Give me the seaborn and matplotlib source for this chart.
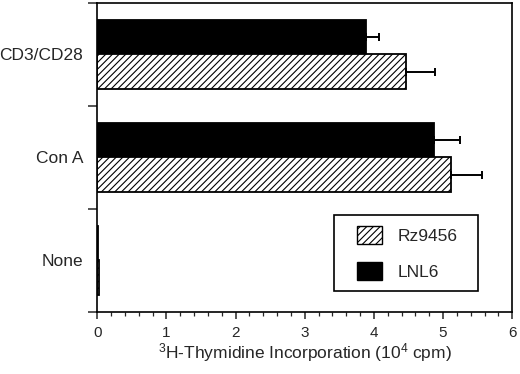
import numpy as np
import pandas as pd
import seaborn as sns
import matplotlib

matplotlib.use("Agg")
import matplotlib.pyplot as plt
from matplotlib.patches import Patch, Rectangle
from matplotlib.ticker import MultipleLocator, FixedLocator

# values (units: 10^4 cpm)
stimuli = ["CD3/CD28", "Con A", "None"]
lnl6 = [3.88, 4.87, 0.01]
lnl6_err = [0.20, 0.38, 0.0]
rz9456 = [4.47, 5.12, 0.03]
rz9456_err = [0.41, 0.44, 0.0]
vectors = ["LNL6", "Rz9456"]
x_ticks = [0, 1, 2, 3, 4, 5, 6]

sns.set_theme(style="ticks")
plt.rcParams["font.family"] = ["Liberation Sans", "DejaVu Sans"]
plt.rcParams["mathtext.default"] = "regular"
plt.rcParams["hatch.linewidth"] = 0.8
plt.rcParams["hatch.color"] = "black"

df = pd.DataFrame(
    {
        "stimulus": stimuli * 2,
        "vector": ["LNL6"] * 3 + ["Rz9456"] * 3,
        "value": lnl6 + rz9456,
    }
)
errs = {"LNL6": lnl6_err, "Rz9456": rz9456_err}

fig, ax = plt.subplots(figsize=(5.2, 3.74), dpi=100)
fig.subplots_adjust(left=0.187, right=0.985, top=0.992, bottom=0.166)

sns.barplot(
    data=df,
    y="stimulus",
    x="value",
    hue="vector",
    order=stimuli,
    hue_order=vectors,
    orient="h",
    width=0.67,
    palette={"LNL6": "black", "Rz9456": "white"},
    edgecolor="black",
    linewidth=1.3,
    errorbar=None,
    legend=False,
    ax=ax,
)

for container, name in zip(ax.containers, vectors):
    for bar, err in zip(container, errs[name]):
        if name == "Rz9456":
            bar.set_hatch("/////")
        if err > 0:
            yc = bar.get_y() + bar.get_height() / 2
            ax.errorbar(
                bar.get_width(), yc, xerr=[[0], [err]],
                fmt="none", ecolor="black", elinewidth=1.4,
                capsize=2.8, capthick=1.4, zorder=3,
            )

ax.set_xlim(0, 6)
ax.set_ylim(2.5, -0.5)
ax.set_xticks(x_ticks)
ax.xaxis.set_minor_locator(MultipleLocator(0.2))
ax.set_yticks(range(len(stimuli)))
ax.set_yticklabels(stimuli)
ax.yaxis.set_minor_locator(FixedLocator([-0.5, 0.5, 1.5, 2.5]))
ax.tick_params(axis="y", which="major", length=0, labelsize=12.5, pad=10)
ax.tick_params(axis="y", which="minor", length=6.5, width=1.1, direction="out")
ax.tick_params(axis="x", which="major", length=5, width=1.1, labelsize=11, pad=5, direction="out")
ax.tick_params(axis="x", which="minor", length=3, width=0.9, direction="out")
for side in ["top", "right", "left", "bottom"]:
    ax.spines[side].set_visible(True)
    ax.spines[side].set_linewidth(1.2)
    ax.spines[side].set_color("black")

ax.set_ylabel("")
ax.set_xlabel(r"$^{3}$H-Thymidine Incorporation (10$^{4}$ cpm)", fontsize=12.5, labelpad=1)

# legend box drawn as its own frame, legend entries placed inside it
ax.add_patch(Rectangle((0.571, 0.068), 0.347, 0.246, transform=ax.transAxes,
                       facecolor="white", edgecolor="black", linewidth=1.2, zorder=4))
handles = [
    Patch(facecolor="white", edgecolor="black", hatch="/////", label="Rz9456"),
    Patch(facecolor="black", edgecolor="black", label="LNL6"),
]
leg = ax.legend(
    handles=handles,
    loc="center left",
    bbox_to_anchor=(0.627, 0.191),
    borderaxespad=0,
    borderpad=0,
    fontsize=12.5,
    handlelength=1.4,
    handleheight=1.2,
    handletextpad=0.9,
    labelspacing=1.05,
    frameon=False,
)
leg.set_zorder(5)

fig.savefig("out.png", dpi=100)
